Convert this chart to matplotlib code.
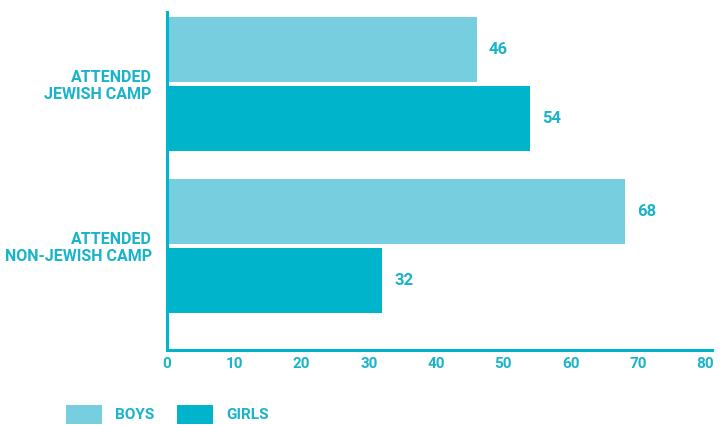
import matplotlib.pyplot as plt
import numpy as np

categories = ["ATTENDED\nJEWISH CAMP", "ATTENDED\nNON-JEWISH CAMP"]
boys = [46, 68]
girls = [54, 32]
xticks = [0, 10, 20, 30, 40, 50, 60, 70, 80]

BOYS_COLOR = "#77CEDE"
GIRLS_COLOR = "#00B4CC"
TEXT_COLOR = "#19B3CA"

plt.rcParams["font.family"] = ["Roboto", "DejaVu Sans"]

fig = plt.figure(figsize=(7.26, 4.25), dpi=100)
ax = fig.add_axes([167 / 726, 1 - 350 / 425, (712 - 167) / 726, 338 / 425])

y = np.arange(len(categories))
h = 0.40
off = 0.213
ax.barh(y - off, boys, height=h, color=BOYS_COLOR, label="BOYS")
ax.barh(y + off, girls, height=h, color=GIRLS_COLOR, label="GIRLS")

for i in range(len(categories)):
    ax.text(boys[i] + 1.8, y[i] - off, str(boys[i]), va="center", ha="left",
            color=TEXT_COLOR, fontsize=12, fontweight="bold")
    ax.text(girls[i] + 1.8, y[i] + off, str(girls[i]), va="center", ha="left",
            color=TEXT_COLOR, fontsize=12, fontweight="bold")

ax.set_xlim(0, 81)
ax.set_ylim(1.642, -0.444)
ax.set_xticks(xticks)
ax.set_xticklabels([str(t) for t in xticks])
ax.set_yticks(y)
ax.set_yticklabels(categories, ha="right", linespacing=1.15, fontsize=11.5)
ax.tick_params(axis="both", length=0, colors=TEXT_COLOR)
ax.tick_params(axis="x", labelsize=11, pad=5)
ax.tick_params(axis="y", pad=11)
for lbl in ax.get_xticklabels() + ax.get_yticklabels():
    lbl.set_fontweight("bold")

for s in ["top", "right"]:
    ax.spines[s].set_visible(False)
for s in ["left", "bottom"]:
    ax.spines[s].set_color(GIRLS_COLOR)
    ax.spines[s].set_linewidth(2.2)

fig.legend(loc="lower left", bbox_to_anchor=(66 / 726, 1 / 425), ncol=2,
           frameon=False, prop={"weight": "bold", "size": 11},
           handlelength=2.35, handleheight=1.55, handletextpad=0.85,
           columnspacing=1.5, borderpad=0, borderaxespad=0, labelcolor=TEXT_COLOR)

fig.savefig("out.png", dpi=100, facecolor="white")
